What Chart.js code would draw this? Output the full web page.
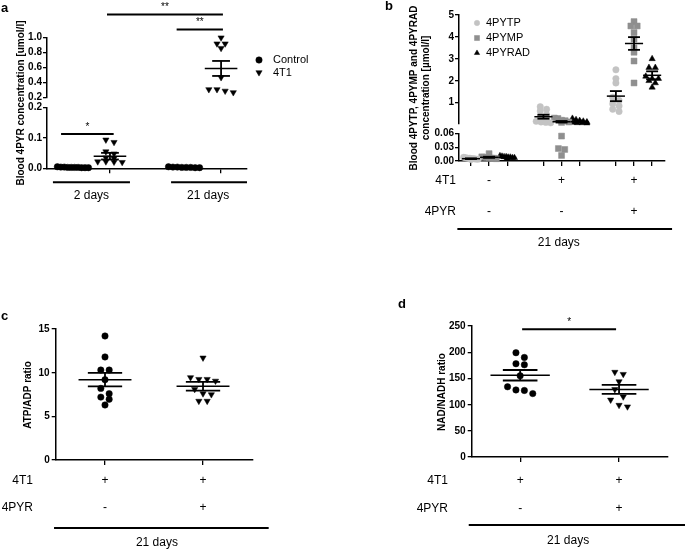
<!DOCTYPE html>
<html>
<head>
<meta charset="utf-8">
<script src="https://cdn.jsdelivr.net/npm/chart.js@4.4.1/dist/chart.umd.min.js"></script>
<style>
  body { margin: 0; background: #fff; }
  #fig { position: relative; width: 685px; height: 550px; overflow: hidden; background: #fff; }
  .panel { position: absolute; }
  .ylab { position: absolute; width: 30px; height: 12px; line-height: 12px; text-align: right;
    font: bold 10px Arial, "Liberation Sans", Helvetica, sans-serif; color: #000; z-index: 3; }
</style>
</head>
<body>
<div id="fig">
  <canvas id="chartA" class="panel" width="340" height="275" style="left:0;top:0"></canvas>
  <canvas id="chartB" class="panel" width="345" height="275" style="left:340px;top:0"></canvas>
  <canvas id="chartC" class="panel" width="340" height="275" style="left:0;top:275px"></canvas>
  <canvas id="chartD" class="panel" width="345" height="275" style="left:340px;top:275px"></canvas>
</div>
<script>
"use strict";

var FONT = 'Arial, "Liberation Sans", Helvetica, sans-serif';

// ---- panel a: blood 4PYR, control vs 4T1 at 2 and 21 days
var aDays = ['2 days', '21 days'];
var aSeries = ['Control', '4T1'];
var aControl2d = [0.004, 0.003, 0.002, 0.005, 0.003, 0.002, 0.004, 0.003, 0.002, 0.003];
var a4T1_2d = [0.094, 0.086, 0.055, 0.048, 0.035, 0.033, 0.022, 0.022, 0.021, 0.020];
var aControl21d = [0.004, 0.003, 0.005, 0.002, 0.003, 0.004, 0.002, 0.003];
var a4T1_21d = [1.0, 0.92, 0.92, 0.86, 0.47, 0.31, 0.31, 0.29, 0.27];
var aMeans = [0.003, 0.040, 0.003, 0.59];
var aSems = [0.0005, 0.011, 0.0005, 0.10];
var aTicksTop = [0.2, 0.4, 0.6, 0.8, 1.0];
var aTicksBottom = [0.0, 0.1, 0.2];

// ---- panel b: 4PYTP / 4PYMP / 4PYRAD, three conditions at 21 days
var bSeries = ['4PYTP', '4PYMP', '4PYRAD'];
var b4T1Signs = ['-', '+', '+'];
var b4PYRSigns = ['-', '-', '+'];
var b4PYTP = [
  [0.008, 0.006, 0.005, 0.005, 0.004, 0.004, 0.003, 0.006, 0.007],
  [0.82, 0.70, 0.62, 0.45, 0.35, 0.25, 0.15, 0.12, 0.10, 0.08],
  [2.5, 2.1, 1.9, 1.25, 1.1, 0.95, 0.85, 0.7, 0.6]
];
var b4PYMP = [
  [0.016, 0.009, 0.008, 0.007, 0.006, 0.006, 0.005, 0.008],
  [0.30, 0.28, 0.20, 0.18, 0.12, 0.10, 0.054, 0.027, 0.025, 0.012],
  [4.7, 4.5, 4.5, 4.2, 3.9, 3.5, 3.3, 2.9, 1.9]
];
var b4PYRAD = [
  [0.011, 0.010, 0.009, 0.008, 0.008, 0.007, 0.007, 0.006, 0.009],
  [0.28, 0.22, 0.18, 0.15, 0.12, 0.10, 0.08, 0.07, 0.08],
  [3.0, 2.6, 2.6, 2.2, 2.1, 2.1, 2.0, 1.9, 1.7]
];
var bMeans = [[0.005, 0.36, 1.3], [0.008, 0.13, 3.7], [0.008, 0.13, 2.25]];
var bSems = [[0.0008, 0.09, 0.23], [0.0012, 0.035, 0.29], [0.0006, 0.02, 0.18]];
var bTicksTop = [1, 2, 3, 4, 5];
var bTicksBottom = [0.00, 0.03, 0.06];

// ---- panel c: ATP/ADP ratio
var c4T1Signs = ['+', '+'];
var c4PYRSigns = ['-', '+'];
var cControl = [14.2, 11.8, 10.3, 10.3, 9.2, 8.2, 7.6, 7.2, 6.95, 6.3];
var c4PYR = [11.7, 9.25, 9.05, 9.25, 9.45, 8.1, 7.5, 7.6, 6.75, 6.75];
var cMeans = [9.2, 8.45];
var cSems = [0.78, 0.5];
var cTicks = [0, 5, 10, 15];

// ---- panel d: NAD/NADH ratio
var d4T1Signs = ['+', '+'];
var d4PYRSigns = ['-', '+'];
var dControl = [190, 199, 176, 178, 155, 128, 121, 127, 134];
var d4PYR = [162, 158, 144, 129, 109, 115, 96, 99];
var dMeans = [156, 129];
var dSems = [10, 8.5];
var dTicks = [0, 50, 100, 150, 200, 250];

// Prism-like column scatter: points of similar value share a row, spread symmetrically
function swarm(values, center, step, tol, maxHalf) {
  var idx = values.map(function (v, i) { return i; })
    .sort(function (i, j) { return values[j] - values[i]; });
  var rows = [], cur = null;
  idx.forEach(function (i) {
    if (!cur || values[cur[0]] - values[i] > tol) { cur = []; rows.push(cur); }
    cur.push(i);
  });
  var pts = [];
  rows.forEach(function (row) {
    var n = row.length, s = step;
    if (n > 1 && (n - 1) / 2 * s > maxHalf) { s = 2 * maxHalf / (n - 1); }
    row.forEach(function (i, k) {
      pts.push({ x: center + (k - (n - 1) / 2) * s, y: values[i] });
    });
  });
  return pts;
}

var STYLES = {
  blackCircle: { pointStyle: 'circle', pointRadius: 3.2, pointBackgroundColor: '#000', pointBorderColor: '#000', pointBorderWidth: 0.5, pointRotation: 0 },
  blackDown: { pointStyle: 'triangle', pointRadius: 3.6, pointBackgroundColor: '#000', pointBorderColor: '#000', pointBorderWidth: 0.5, pointRotation: 180 },
  grayCircle: { pointStyle: 'circle', pointRadius: 3.2, pointBackgroundColor: '#c3c3c3', pointBorderColor: '#c3c3c3', pointBorderWidth: 0.5, pointRotation: 0 },
  graySquare: { pointStyle: 'rect', pointRadius: 4.2, pointBackgroundColor: '#8f8f8f', pointBorderColor: '#8f8f8f', pointBorderWidth: 0.5, pointRotation: 0 },
  blackUp: { pointStyle: 'triangle', pointRadius: 3.6, pointBackgroundColor: '#000', pointBorderColor: '#000', pointBorderWidth: 0.5, pointRotation: 0 }
};

// split a column over a broken axis: values >= brk go on the top segment
function column(values, center, opt, style, label) {
  var sets = [];
  var top = values.filter(function (v) { return v >= opt.brk; });
  var bot = values.filter(function (v) { return v < opt.brk; });
  if (top.length) {
    sets.push(Object.assign({ type: 'scatter', label: label, yAxisID: opt.topId, clip: false,
      data: swarm(top, center, opt.step, opt.tolTop, opt.maxHalf) }, style));
  }
  if (bot.length) {
    sets.push(Object.assign({ type: 'scatter', label: label, yAxisID: opt.botId, clip: false,
      data: swarm(bot, center, opt.step, opt.tolBot, opt.maxHalf) }, style));
  }
  return sets;
}

function yAxis(min, max, ticks, digits, width, extra) {
  return Object.assign({
    type: 'linear', position: 'left', min: min, max: max,
    grid: { display: true, drawOnChartArea: false, drawTicks: true, tickLength: 4, color: '#000', lineWidth: 1.3 },
    border: { display: true, color: '#000', width: 1.5 },
    ticks: { font: { size: 10, weight: 'bold' }, color: '#000', padding: 1, autoSkip: false,
      callback: function (v) { return Number(v).toFixed(digits); } },
    afterBuildTicks: function (s) { s.ticks = ticks.map(function (v) { return { value: v }; }); },
    afterFit: function (s) { s.width = width; }
  }, extra || {});
}

function gapAxis(weight, width) {
  return {
    type: 'linear', position: 'left', min: 0, max: 1, stack: 'y', stackWeight: weight, weight: 2,
    grid: { display: false }, border: { display: false }, ticks: { display: false },
    afterFit: function (s) { s.width = width; }
  };
}

function xAxis(min, max, tickVals) {
  return {
    type: 'linear', position: 'bottom', min: min, max: max,
    grid: { display: true, drawOnChartArea: false, drawTicks: true, tickLength: 5, color: '#000', lineWidth: 1.3 },
    border: { display: true, color: '#000', width: 1.5 },
    ticks: { display: false, autoSkip: false },
    afterBuildTicks: function (s) { s.ticks = tickVals.map(function (v) { return { value: v }; }); },
    afterFit: function (s) { s.height = 10; }
  };
}

function seg(ctx, x1, y1, x2, y2) {
  ctx.beginPath(); ctx.moveTo(x1, y1); ctx.lineTo(x2, y2); ctx.stroke();
}

// draws mean/SEM bars, significance bars, condition rows, legend, titles
var decorPlugin = {
  id: 'decor',
  afterDatasetsDraw: function (chart) {
    var o = chart.options.plugins.decor;
    if (!o) { return; }
    var ctx = chart.ctx, x = chart.scales.x, area = chart.chartArea;
    ctx.save();
    ctx.strokeStyle = '#000';
    ctx.fillStyle = '#000';

    (o.stats || []).forEach(function (s) {
      var ys = chart.scales[s.axis];
      var cx = x.getPixelForValue(s.x);
      var hm = x.getPixelForValue(s.x + o.meanHalf) - cx;
      var hc = x.getPixelForValue(s.x + o.capHalf) - cx;
      var ym = ys.getPixelForValue(s.mean);
      var y1 = ys.getPixelForValue(s.mean + s.sem);
      var y2 = ys.getPixelForValue(s.mean - s.sem);
      ctx.lineWidth = 1.5;
      seg(ctx, cx - hm, ym, cx + hm, ym);
      ctx.lineWidth = 1.8;
      seg(ctx, cx - hc, y1, cx + hc, y1);
      seg(ctx, cx - hc, y2, cx + hc, y2);
      seg(ctx, cx, y1, cx, y2);
    });

    (o.sig || []).forEach(function (s) {
      var ys = chart.scales[s.axis];
      var yy = ys.getPixelForValue(s.y);
      ctx.lineWidth = 2;
      seg(ctx, x.getPixelForValue(s.x1), yy, x.getPixelForValue(s.x2), yy);
      ctx.font = '10px ' + FONT;
      ctx.textAlign = 'center';
      ctx.textBaseline = 'alphabetic';
      ctx.fillText(s.label, (x.getPixelForValue(s.x1) + x.getPixelForValue(s.x2)) / 2, yy - 4);
    });

    (o.groups || []).forEach(function (g) {
      var yl = area.bottom + g.lineDy;
      ctx.lineWidth = 2;
      seg(ctx, x.getPixelForValue(g.x1), yl, x.getPixelForValue(g.x2), yl);
      ctx.font = '12px ' + FONT;
      ctx.textAlign = 'center';
      ctx.textBaseline = 'middle';
      ctx.fillText(g.label, x.getPixelForValue(g.tx), area.bottom + g.textDy);
    });

    (o.rows || []).forEach(function (r) {
      var yr = area.bottom + r.dy;
      ctx.font = '12px ' + FONT;
      ctx.textBaseline = 'middle';
      ctx.textAlign = 'right';
      ctx.fillText(r.label, r.labelX, yr);
      ctx.textAlign = 'center';
      r.signs.forEach(function (sg, i) {
        ctx.fillText(sg, x.getPixelForValue(r.at[i]), yr);
      });
    });

    if (o.legend) {
      var L = o.legend;
      L.items.forEach(function (it, i) {
        var st = it.style, yy = L.y + i * L.dy;
        ctx.save();
        ctx.fillStyle = st.pointBackgroundColor;
        ctx.strokeStyle = st.pointBorderColor;
        ctx.lineWidth = 0.5;
        Chart.helpers.drawPoint(ctx, { pointStyle: st.pointStyle, radius: st.pointRadius * L.scale,
          rotation: st.pointRotation, borderWidth: 0.5 }, L.x, yy);
        ctx.restore();
        ctx.fillStyle = '#000';
        ctx.font = '11px ' + FONT;
        ctx.textAlign = 'left';
        ctx.textBaseline = 'middle';
        ctx.fillText(it.label, L.tx, yy);
      });
    }

    (o.titles || []).forEach(function (t) {
      ctx.save();
      ctx.translate(t.x, t.y);
      ctx.rotate(-Math.PI / 2);
      ctx.font = 'bold 10px ' + FONT;
      ctx.textAlign = 'center';
      ctx.textBaseline = 'middle';
      t.lines.forEach(function (ln, i) {
        ctx.fillText(ln, 0, (i - (t.lines.length - 1) / 2) * 12.5);
      });
      ctx.restore();
    });

    if (o.letter) {
      ctx.font = 'bold 13px ' + FONT;
      ctx.textAlign = 'left';
      ctx.textBaseline = 'middle';
      ctx.fillText(o.letter.text, o.letter.x, o.letter.y);
    }
    ctx.restore();
  }
};

function legendItems(labels, styles) {
  return labels.map(function (l, i) { return { label: l, style: styles[i] }; });
}

Chart.defaults.font.family = FONT;
Chart.defaults.color = '#000';
Chart.register(decorPlugin);

function baseOptions(padding, scales, decor) {
  return {
    responsive: false, animation: false, events: [],
    layout: { padding: padding },
    scales: scales,
    plugins: { legend: { display: false }, tooltip: { enabled: false }, decor: decor }
  };
}

// ---------- panel a ----------
(function () {
  var colX = [0, 1, 3, 4];
  var opt = { brk: 0.2, topId: 'yTop', botId: 'yBot', step: 0.22, tolTop: 0.045, tolBot: 0.012, maxHalf: 0.42 };
  var cols = [aControl2d, a4T1_2d, aControl21d, a4T1_21d];
  var styles = [STYLES.blackCircle, STYLES.blackDown, STYLES.blackCircle, STYLES.blackDown];
  var datasets = [];
  cols.forEach(function (vals, i) {
    datasets = datasets.concat(column(vals, colX[i], opt, styles[i], aSeries[i % 2]));
  });
  var stats = aMeans.map(function (m, i) {
    return { x: colX[i], mean: m, sem: aSems[i], axis: m >= opt.brk ? 'yTop' : 'yBot' };
  });
  new Chart(document.getElementById('chartA'), {
    type: 'scatter',
    data: { datasets: datasets },
    options: baseOptions({ left: 7, right: 93, top: 37.7, bottom: 96.7 }, {
      x: xAxis(-0.7, 4.7, [colX[1], colX[3]]),
      yTop: yAxis(0.2, 1.0, aTicksTop, 1, 40, { stack: 'y', stackWeight: 60, weight: 3 }),
      yGap: gapAxis(10, 40),
      yBot: yAxis(0, 0.2, aTicksBottom, 1, 40, { stack: 'y', stackWeight: 60.6, weight: 1 })
    }, {
      meanHalf: 0.44, capHalf: 0.24,
      stats: stats,
      sig: [
        { x1: -0.32, x2: 1.1, y: 0.113, axis: 'yBot', label: '*' },
        { x1: 2.8, x2: 4.05, y: 1.11, axis: 'yTop', label: '**' },
        { x1: 0.92, x2: 4.05, y: 1.31, axis: 'yTop', label: '**' }
      ],
      groups: [
        { x1: -0.54, x2: 1.54, tx: 0.5, label: aDays[0], lineDy: 14, textDy: 27 },
        { x1: 2.65, x2: 4.7, tx: 3.65, label: aDays[1], lineDy: 14, textDy: 27 }
      ],
      legend: { x: 259, y: 60, dy: 12.5, tx: 273, scale: 1, items: legendItems(aSeries, [STYLES.blackCircle, STYLES.blackDown]) },
      titles: [{ lines: ['Blood 4PYR concentration [umol/l]'], x: 21, y: 103 }],
      letter: { text: 'a', x: 1, y: 8 }
    })
  });
})();

// ---------- panel b ----------
(function () {
  var centers = [0, 4, 8];
  var opt = { brk: 0.06, topId: 'yTop', botId: 'yBot', step: 0.35, tolTop: 0.18, tolBot: 0.004, maxHalf: 0.4 };
  var series = [b4PYTP, b4PYMP, b4PYRAD];
  var styles = [STYLES.grayCircle, STYLES.graySquare, STYLES.blackUp];
  var datasets = [], stats = [], ticks = [];
  centers.forEach(function (c, g) {
    series.forEach(function (ser, s) {
      var cx = c + (s - 1);
      ticks.push(cx);
      datasets = datasets.concat(column(ser[g], cx, opt, styles[s], bSeries[s]));
      var m = bMeans[s][g];
      stats.push({ x: cx, mean: m, sem: bSems[s][g], axis: m >= opt.brk ? 'yTop' : 'yBot' });
    });
  });
  new Chart(document.getElementById('chartB'), {
    type: 'scatter',
    data: { datasets: datasets },
    options: baseOptions({ left: 74, right: 20, top: 15, bottom: 104 }, {
      x: xAxis(-1.66, 9.71, ticks),
      yTop: yAxis(0.06, 5, bTicksTop, 0, 45, { stack: 'y', stackWeight: 108.3, weight: 3 }),
      yGap: gapAxis(10, 45),
      yBot: yAxis(0, 0.06, bTicksBottom, 2, 45, { stack: 'y', stackWeight: 27.7, weight: 1 })
    }, {
      meanHalf: 0.5, capHalf: 0.33,
      stats: stats,
      rows: [
        { label: '4T1', labelX: 116, dy: 20, signs: b4T1Signs, at: centers },
        { label: '4PYR', labelX: 116, dy: 51, signs: b4PYRSigns, at: centers }
      ],
      groups: [{ x1: -1.75, x2: 10.1, tx: 3.85, label: '21 days', lineDy: 68, textDy: 82 }],
      legend: { x: 137, y: 23, dy: 15, tx: 146, scale: 0.85, items: legendItems(bSeries, styles) },
      titles: [{ lines: ['Blood 4PYTP, 4PYMP and 4PYRAD', 'concentration [\u00b5mol/l]'], x: 80, y: 88 }],
      letter: { text: 'b', x: 45, y: 6 }
    })
  });
})();

// ---------- panels c and d ----------
// y tick labels of these two axes are placed as page text at the scale's own tick pixels
function tickTextFromScale(canvasId, scale, digits) {
  var cv = document.getElementById(canvasId);
  var fig = document.getElementById('fig');
  var left = parseFloat(cv.style.left) || 0, top = parseFloat(cv.style.top) || 0;
  scale.ticks.forEach(function (t) {
    var el = document.createElement('div');
    el.className = 'ylab';
    el.textContent = Number(t.value).toFixed(digits);
    el.style.left = (left + scale.right - 6 - 30) + 'px';
    el.style.top = (top + scale.getPixelForValue(t.value) - 6) + 'px';
    fig.appendChild(el);
  });
}

function ratioPanel(id, ctrl, treated, means, sems, tickVals, sig4T1, sig4PYR, L) {
  var opt = { brk: -Infinity, topId: 'y', botId: 'y', step: 0.085, tolTop: L.tol, tolBot: L.tol, maxHalf: 0.3 };
  var datasets = column(ctrl, 0, opt, STYLES.blackCircle, 'Control')
    .concat(column(treated, 1, opt, STYLES.blackDown, '4PYR'));
  var stats = means.map(function (m, i) { return { x: i, mean: m, sem: sems[i], axis: 'y' }; });
  var y = yAxis(tickVals[0], tickVals[tickVals.length - 1], tickVals, 0, 30);
  y.ticks.display = false;
  var chart = new Chart(document.getElementById(id), {
    type: 'scatter',
    data: { datasets: datasets },
    options: baseOptions(L.padding, {
      x: xAxis(L.xmin, L.xmax, [0, 1]),
      y: y
    }, {
      meanHalf: L.meanHalf, capHalf: 0.175,
      stats: stats,
      sig: L.sig || [],
      rows: [
        { label: '4T1', labelX: L.labelX, dy: L.rowDy[0], signs: sig4T1, at: [0, 1] },
        { label: '4PYR', labelX: L.labelX, dy: L.rowDy[1], signs: sig4PYR, at: [0, 1] }
      ],
      groups: [{ x1: L.line[0], x2: L.line[1], tx: L.line[2], label: '21 days', lineDy: L.lineDy, textDy: L.textDy }],
      titles: [{ lines: [L.title], x: L.titleX, y: L.titleY }],
      letter: L.letter
    })
  });
  tickTextFromScale(id, chart.scales.y, 0);
}

ratioPanel('chartC', cControl, c4PYR, cMeans, cSems, cTicks, c4T1Signs, c4PYRSigns, {
  tol: 0.7, padding: { left: 25.7, right: 87, top: 54, bottom: 80 },
  xmin: -0.503, xmax: 1.51, meanHalf: 0.27,
  labelX: 33, rowDy: [21, 48], line: [-0.52, 1.67, 0.53], lineDy: 68, textDy: 83,
  title: 'ATP/ADP ratio', titleX: 28, titleY: 120,
  letter: { text: 'c', x: 1, y: 41 }
});

ratioPanel('chartD', dControl, d4PYR, dMeans, dSems, dTicks, d4T1Signs, d4PYRSigns, {
  tol: 14, padding: { left: 101.7, right: 17, top: 51, bottom: 83 },
  xmin: -0.49, xmax: 1.495, meanHalf: 0.3,
  labelX: 108, rowDy: [24, 52], line: [-0.52, 1.67, 0.485], lineDy: 68, textDy: 84,
  sig: [{ x1: 0.02, x2: 0.97, y: 244, axis: 'y', label: '*' }],
  title: 'NAD/NADH ratio', titleX: 102, titleY: 117,
  letter: { text: 'd', x: 58, y: 29 }
});
</script>
</body>
</html>
